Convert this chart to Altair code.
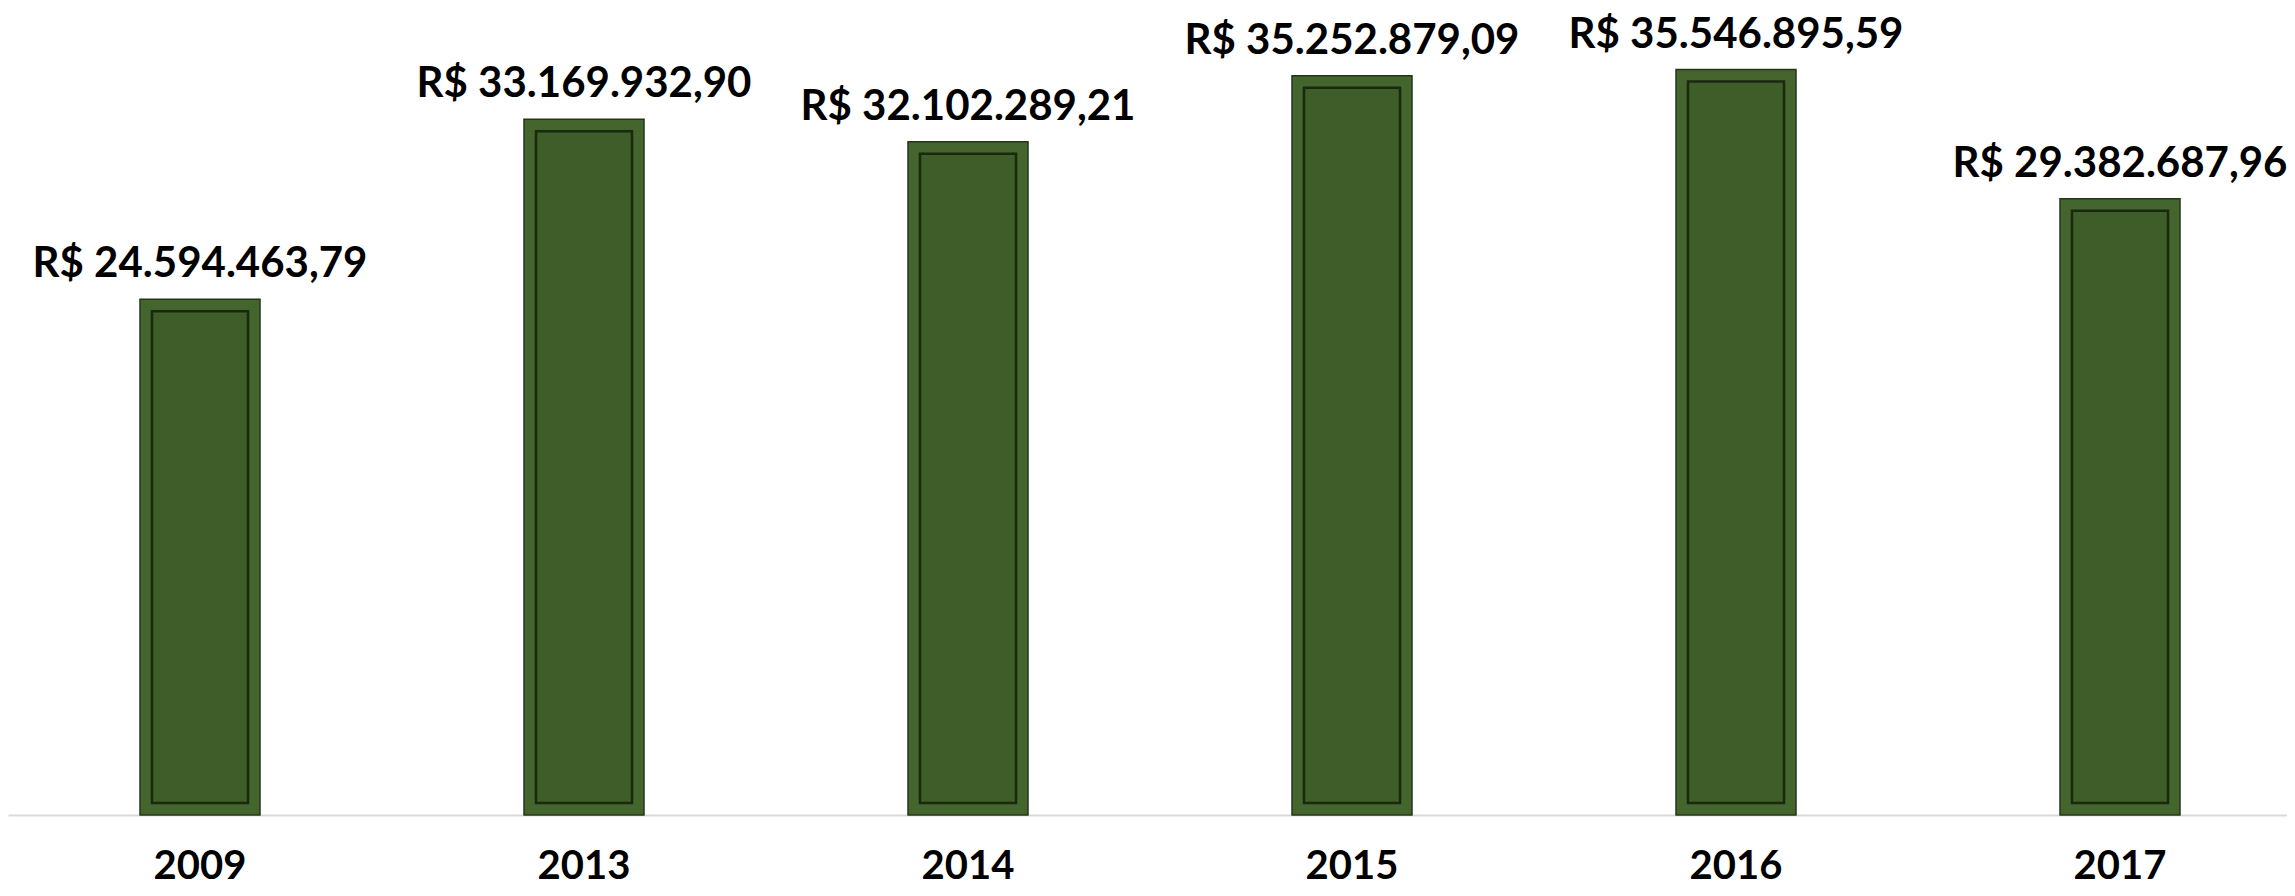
import altair as alt
import pandas as pd

years = ["2009", "2013", "2014", "2015", "2016", "2017"]
values = [24594463.79, 33169932.90, 32102289.21, 35252879.09, 35546895.59, 29382687.96]
labels = ["R$ 24.594.463,79", "R$ 33.169.932,90", "R$ 32.102.289,21",
          "R$ 35.252.879,09", "R$ 35.546.895,59", "R$ 29.382.687,96"]

df = pd.DataFrame({"ano": years, "valor": values, "rotulo": labels})

x = alt.X(
    "ano:N", sort=years,
    scale=alt.Scale(range=[0, 2304], paddingInner=0.6875, paddingOuter=0.34375),
    axis=alt.Axis(title=None, labelAngle=0, labelFont="Lato", labelFontWeight="bold",
                  labelFontSize=40, labelColor="black", labelBaseline="alphabetic",
                  labelPadding=63, ticks=False, tickSize=0,
                  domainColor="#d9d9d9", domainWidth=2),
)
y = alt.Y("valor:Q", scale=alt.Scale(domain=[0, 38480000], nice=False), axis=None)

base = alt.Chart(df).encode(x=x, y=y)

outer = base.mark_bar(size=120, color="#44652d", stroke="#24361a", strokeWidth=1.5)
inner = base.mark_bar(size=96, color="#3e5d28", stroke="#1a280f", strokeWidth=2.5,
                      yOffset=12, y2Offset=-12).encode(y2=alt.datum(0))
text = base.mark_text(font="Lato", fontWeight="bold", fontSize=42, baseline="alphabetic",
                      dy=-22, color="black").encode(text="rotulo:N")

chart = alt.layer(outer, inner, text).properties(
    width=2279, height=807,
    autosize=alt.AutoSizeParams(type="none"),
    padding={"left": 0, "top": 0, "right": 0, "bottom": 73},
    background="white",
).configure_view(stroke=None)

chart.save("out.html", embed_options={"renderer": "svg", "actions": False})
